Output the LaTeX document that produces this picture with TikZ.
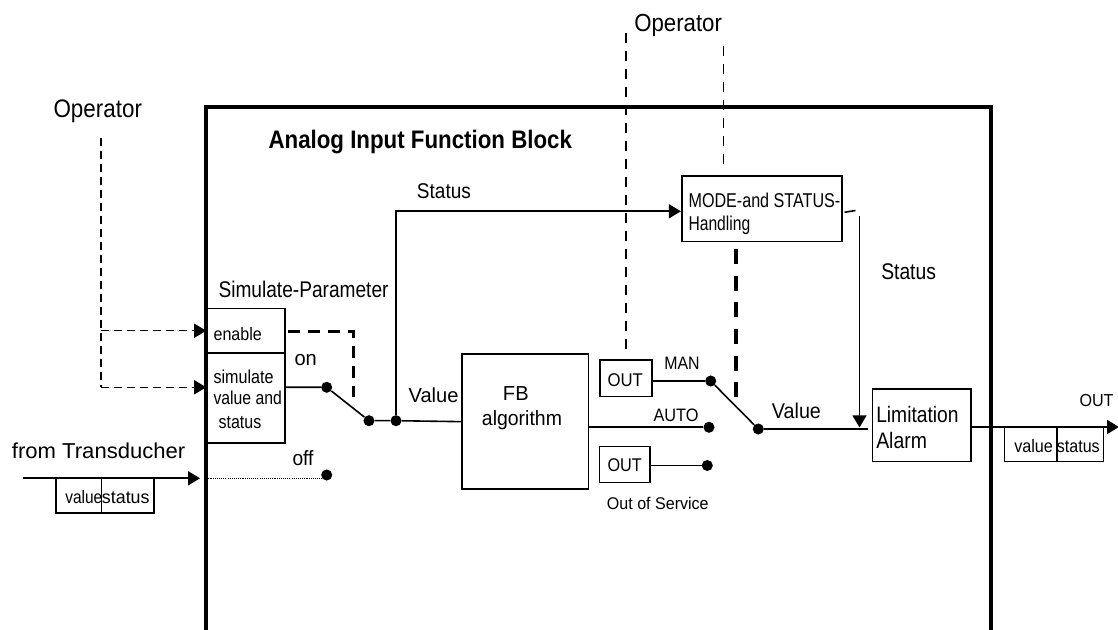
\documentclass[tikz,border=0pt]{standalone}
\usepackage{fontspec}
\setmainfont{Liberation Sans}
\usetikzlibrary{arrows.meta,fit}
\newlength\pxu
\setlength\pxu{0.75pt}
% text set at a given size and squeezed to a given width (in px units)
\newcommand\tw[3]{{\fontsize{#2pt}{#2pt}\selectfont\resizebox{#1\pxu}{\height}{#3}}}
\begin{document}
\begin{tikzpicture}[x=0.75pt,y=-0.75pt,
  blockframe/.style={draw,line width=2.5pt,inner sep=0pt},
  box/.style={draw,line width=1.2pt,inner sep=0pt},
  conn/.style={line width=1.2pt},
  arr/.style={-{Triangle[length=9pt,width=10.5pt]}},
  swdot/.style={circle,fill,inner sep=0pt,minimum size=8.3pt},
  txt/.style={inner sep=0pt,anchor=base west},
  thindash/.style={line width=1.1pt,dash pattern=on 6pt off 3.75pt},
  thindashb/.style={line width=1.1pt,dash pattern=on 7.5pt off 6pt},
  thickdash/.style={line width=2.6pt,dash pattern=on 9pt off 6pt},
  thickdashb/.style={line width=3pt,dash pattern=on 11.25pt off 8.75pt},
  dotline/.style={line width=0.8pt,dash pattern=on 0.8pt off 0.8pt}]
\fill[white] (0,0) rectangle (1118,630);
\useasboundingbox (0,0) rectangle (1118,630);
\clip (0,0) rectangle (1118,630);

% function block frame (open towards the bottom)
\node[blockframe, fit={(206,107) (991,690)}] (blk) {};

% boxes
\node[box, fit={(207,308.5) (285,353)}] (simEn) {};
\node[box, fit={(207,353) (285,443)}] (simVal) {};
\node[box, fit={(461.7,354.3) (588.3,489)}] (fb) {};
\node[box, fit={(681.7,176) (841.7,241.7)}] (mode) {};
\node[box, fit={(600,360) (651.7,396.7)}] (out1) {};
\node[box, fit={(599.3,446.7) (650,482.7)}] (out2) {};
\node[box, fit={(872.3,389) (971,461.7)}] (lim) {};
\node[box, fit={(56,478.3) (101.3,513.3)}] (inV) {};
\node[box, fit={(101.3,478.3) (154,513.3)}] (inS) {};
\node[box, fit={(1004.3,426.7) (1056.7,461.7)}] (outV) {};
\node[box, fit={(1056.7,426.7) (1103.3,461.7)}] (outS) {};

% switch contacts
\node[swdot] (dOn) at (326.7,387.3) {};
\node[swdot] (dMid) at (369,420.7) {};
\node[swdot] (dJ) at (396,420.7) {};
\node[swdot] (dOff) at (326.7,475) {};
\node[swdot] (dMan) at (710.7,381) {};
\node[swdot] (dAuto) at (709,427.3) {};
\node[swdot] (dOos) at (707.3,465.5) {};
\node[swdot] (dOut) at (758.3,429) {};

% operator access to the simulate parameter
\coordinate (opLtop) at (101,138.3);
\coordinate (opLbot) at (101,387.3);
\draw[thindash] (opLtop) -- (opLbot);
\draw[thindash,arr] (opLtop |- simEn.west) -- (simEn.west);
\draw[thindash,arr] (opLbot) -- (opLbot -| simVal.west);

% input from the transducer
\coordinate (tdIn) at (23.3,478.3);
\draw[conn,arr,shorten >=3.2pt] (tdIn) -- (tdIn -| blk.west);
\draw[dotline] (tdIn -| simVal.west) -- (tdIn -| dOff);

% simulation enable
\coordinate (enC) at (353.3,331.7);
\coordinate (enE) at (353.3,396.7);
\draw[thickdash,shorten <=1.5pt] (simEn.east |- enC) -- (enC) -- (enE);

% simulation switch and value path
\draw[conn] (simVal.east |- dOn) -- (dOn) -- (dMid) -- (dJ) -- (fb.west);
\coordinate (stC) at (396,211.3);
\draw[conn,arr] (dJ) -- (stC) -- (stC -| mode.west);

% mode switch
\draw[conn] (fb.east |- dAuto) -- (dAuto);
\draw[conn] (out1.east |- dMan) -- (dMan);
\draw[conn] (out2.east |- dOos) -- (dOos);
\draw[conn] (dMan) -- (dOut);
\draw[conn,shorten >=2.5pt] (dOut) -- (dOut -| lim.west);

% status from mode handling
\coordinate (tkA) at (844.5,212.3);
\coordinate (tkB) at (855.5,210.5);
\draw[conn] (tkA) -- (tkB);
\coordinate (stR) at (859.5,216.5);
\draw[conn,arr,shorten >=1.2pt] (stR) -- (stR |- dOut);

% block output
\coordinate (outTip) at (1119,427);
\draw[conn,arr] (lim.east |- outTip) -- (outTip);

% operator access to mode handling
\coordinate (opT1) at (626,33);
\draw[thindashb,shorten >=4.5pt] (opT1) -- (opT1 |- out1.north);
\coordinate (opT2) at (723.3,46);
\draw[thindashb,shorten >=7.5pt] (opT2) -- (opT2 |- mode.north);
\coordinate (mdE) at (736,400);
\draw[thickdashb,shorten <=5pt] (mdE |- mode.south) -- (mdE);

% labels
\node[txt] (tOpL) at (53.3,118) {\tw{88.4}{19}{Operator}};
\node[txt] (tOpT) at (634,31.7) {\tw{87.7}{18.5}{Operator}};
\node[txt] (tTitle) at (268.3,149) {\bfseries\tw{303.4}{19}{Analog Input Function Block}};
\node[txt] (tSim) at (218.3,297.7) {\tw{170}{17}{Simulate-Parameter}};
\node[txt] (tStA) at (416.7,199) {\tw{54}{16}{Status}};
\node[txt] (tStB) at (881,280) {\tw{54.7}{17}{Status}};
\node[txt] (tMode1) at (688.3,207.3) {\tw{151.7}{15}{MODE-and STATUS-}};
\node[txt] (tMode2) at (688.3,230.7) {\tw{61.7}{15}{Handling}};
\node[txt] (tEn) at (213.3,340.7) {\tw{48.3}{13.5}{enable}};
\node[txt] (tSv1) at (213.3,383.3) {\tw{60}{14}{simulate}};
\node[txt] (tSv2) at (213.3,405) {\tw{68.3}{14}{value and}};
\node[txt] (tSv3) at (218.3,428.3) {\tw{42.7}{14}{status}};
\node[txt] (tOn) at (294.3,365.7) {\tw{22.3}{15.5}{on}};
\node[txt] (tOff) at (292.3,465.7) {\tw{21}{15.5}{off}};
\node[txt] (tTd) at (11.7,458.3) {\tw{173.3}{16.2}{from Transducher}};
\node[txt] (tInV) at (65,504) {\tw{37}{13.5}{value}};
\node[txt] (tInS) at (101.7,504) {\tw{47.6}{13.5}{status}};
\node[txt] (tOutV) at (1014,452.7) {\tw{38.7}{13.5}{value}};
\node[txt] (tOutS) at (1056.7,452.7) {\tw{42.7}{13.5}{status}};
\node[txt] (tVal1) at (408.3,402.3) {\tw{50}{15.2}{Value}};
\node[txt] (tFB) at (502.7,400.7) {\tw{25.7}{15.2}{FB}};
\node[txt] (tAlg) at (481.7,426) {\tw{80}{15.5}{algorithm}};
\node[txt] (tVal2) at (771.7,418.3) {\tw{49}{16}{Value}};
\node[txt] (tLim) at (876,422.7) {\tw{82.3}{16.8}{Limitation}};
\node[txt] (tAl) at (876,448.3) {\tw{50.7}{16.8}{Alarm}};
\node[txt] (tOut) at (1079.3,406.7) {\tw{34}{13}{OUT}};
\node[txt] (tMan) at (664,369.3) {\tw{35.3}{13.5}{MAN}};
\node[txt] (tAuto) at (653.3,421.7) {\tw{45}{13.5}{AUTO}};
\node[txt] (tO1) at (607.3,386.7) {\tw{35.3}{13.8}{OUT}};
\node[txt] (tO2) at (607.3,471.7) {\tw{34.3}{13.8}{OUT}};
\node[txt] (tOos) at (606.7,510) {\tw{101.7}{12.7}{Out of Service}};
\end{tikzpicture}
\end{document}
